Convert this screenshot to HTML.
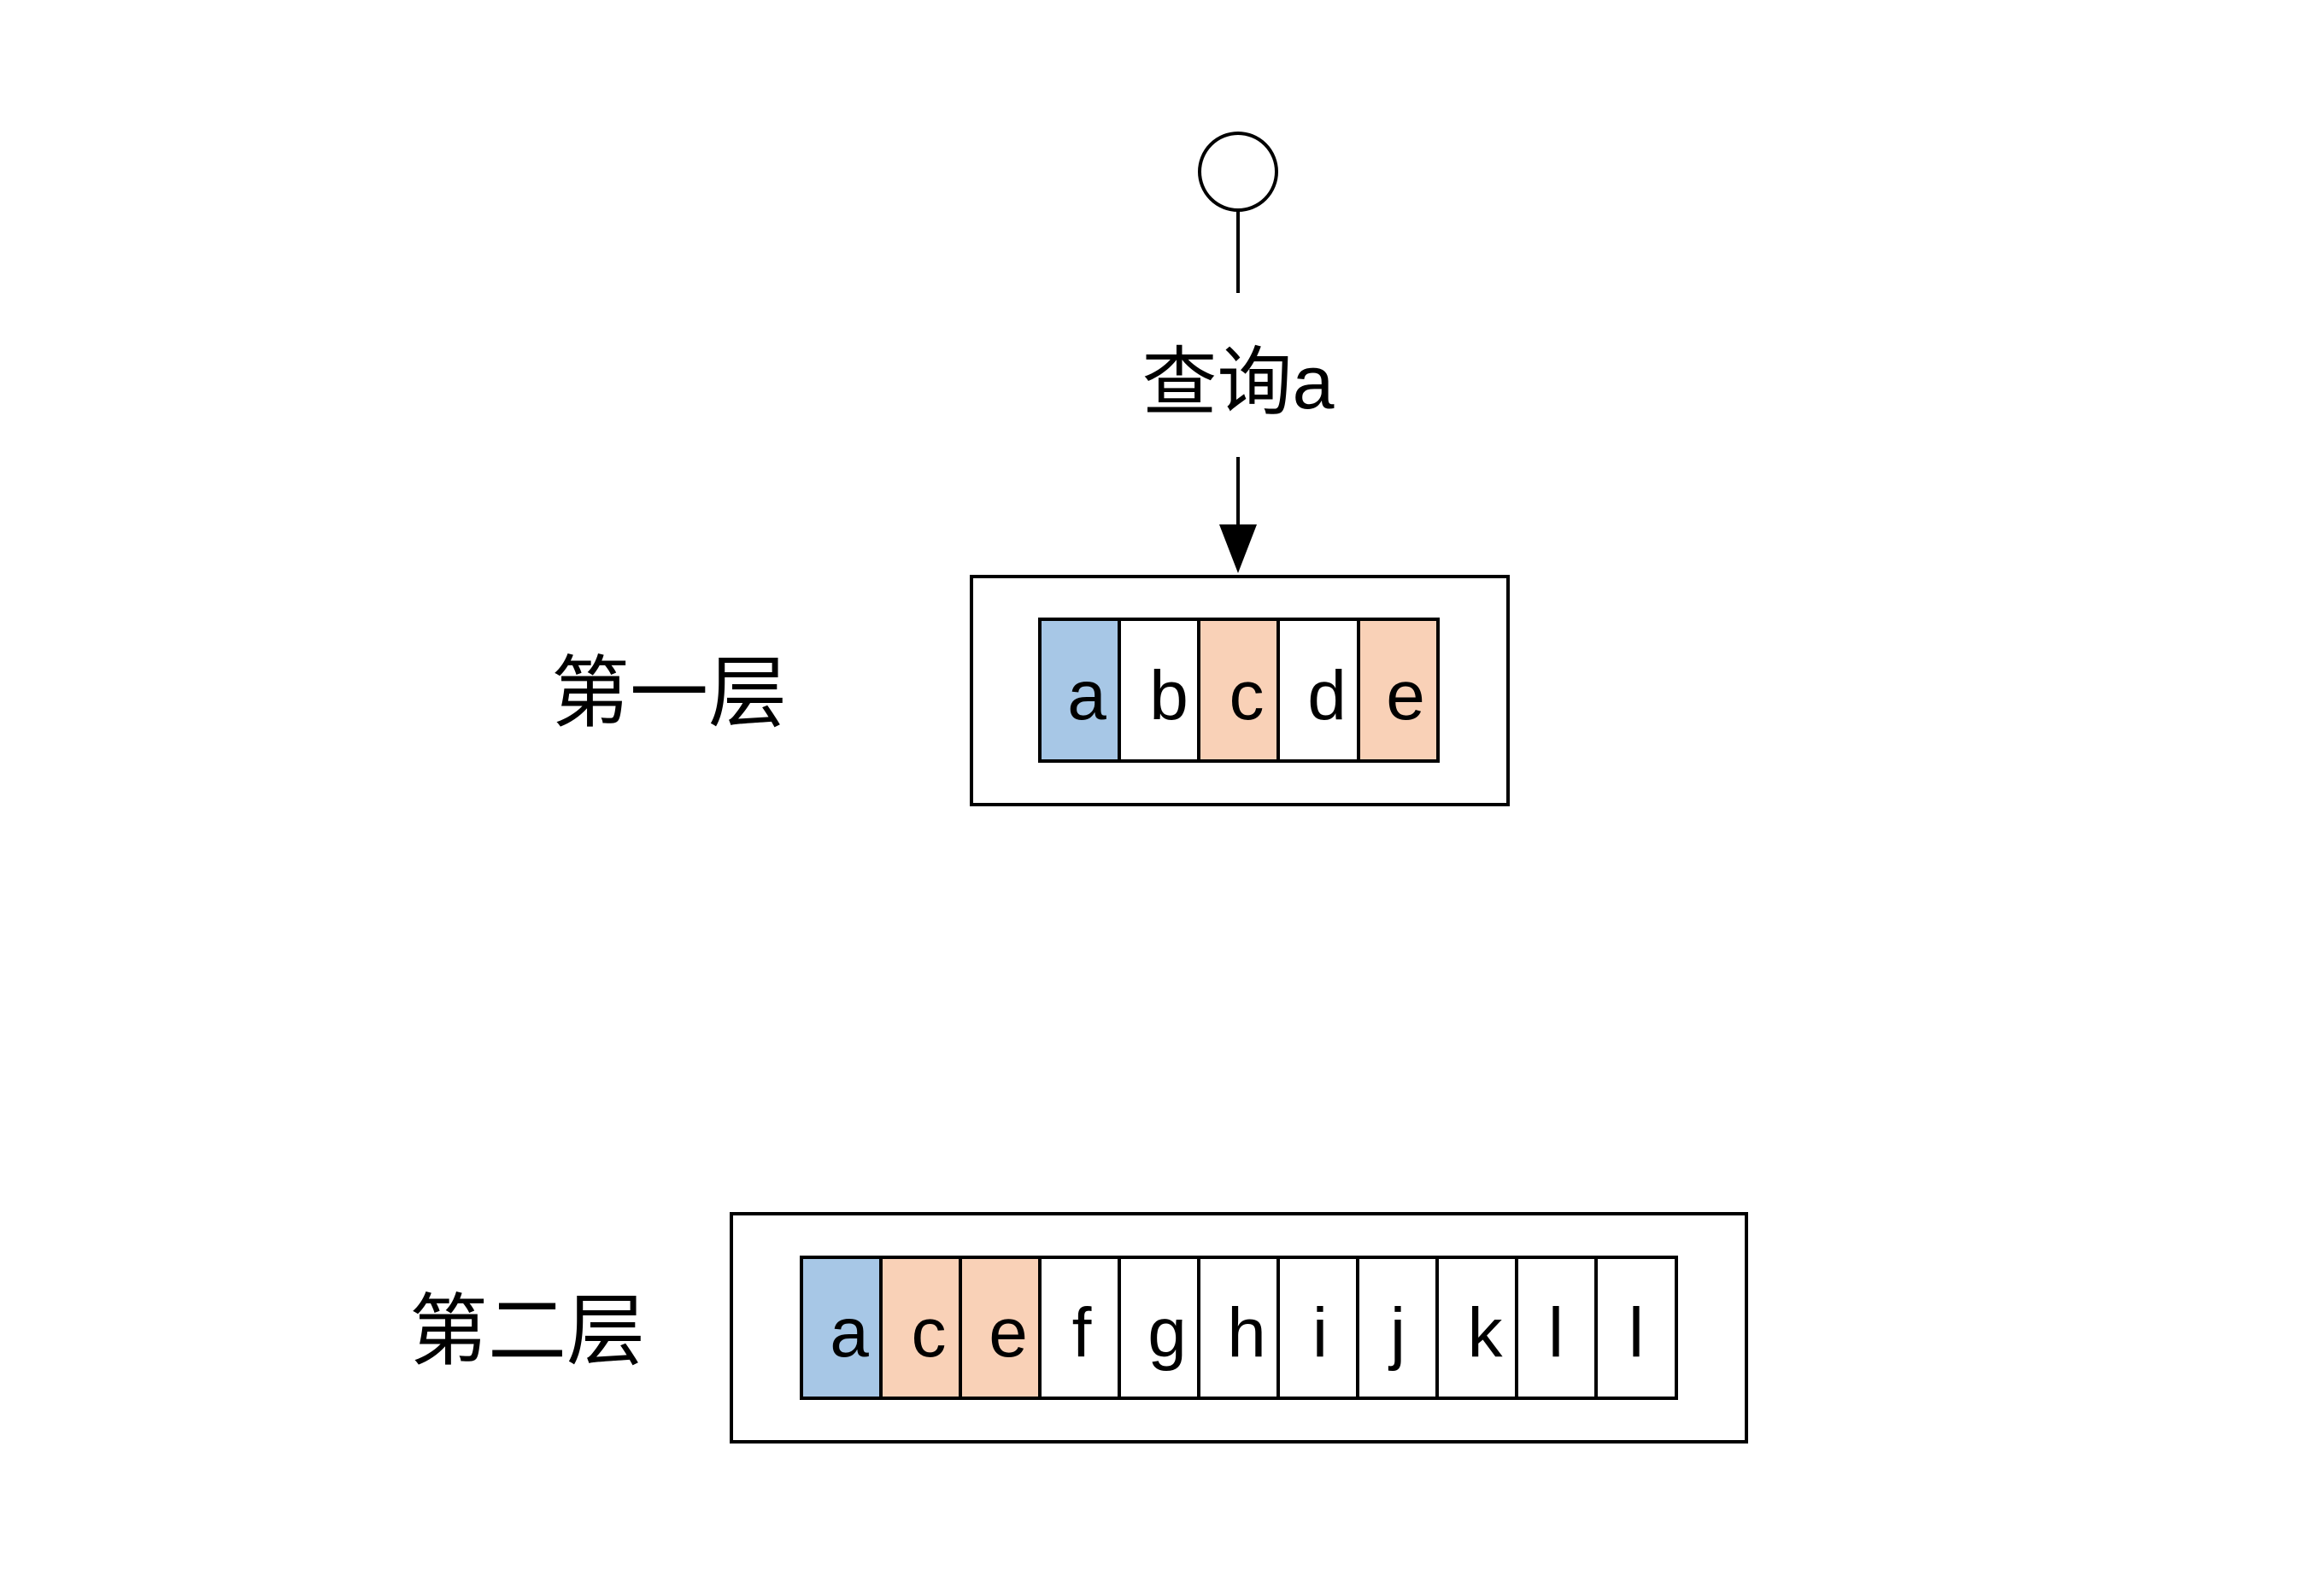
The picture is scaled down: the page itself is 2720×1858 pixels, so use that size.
<!DOCTYPE html>
<html><head><meta charset="utf-8"><style>
body{margin:0;background:#fff;}
svg text{font-family:"Liberation Sans","Noto Sans CJK SC",sans-serif;}
</style></head><body>
<svg width="2720" height="1853" viewBox="0 0 2720 1853" xmlns="http://www.w3.org/2000/svg">
<rect width="2720" height="1853" fill="#fff"/>
<circle cx="1449" cy="201" r="45" fill="#fff" stroke="#000" stroke-width="4"/>
<line x1="1449" y1="246" x2="1449" y2="343" stroke="#000" stroke-width="4"/>
<text x="1449" y="478" font-size="88" text-anchor="middle">查询a</text>
<line x1="1449" y1="535" x2="1449" y2="620" stroke="#000" stroke-width="4"/>
<polygon points="1427,614 1471,614 1449,671" fill="#000"/>
<rect x="1137" y="675" width="628" height="267" fill="none" stroke="#000" stroke-width="4"/>
<g stroke="#000" stroke-width="4" font-size="82" text-anchor="middle">
<rect x="1217" y="725" width="93" height="166" fill="#a7c7e6"/>
<rect x="1310" y="725" width="93" height="166" fill="#fff"/>
<rect x="1403" y="725" width="93" height="166" fill="#f9d1b7"/>
<rect x="1496" y="725" width="94" height="166" fill="#fff"/>
<rect x="1590" y="725" width="93" height="166" fill="#f9d1b7"/>
</g>
<g font-size="82" text-anchor="middle">
<text x="1272" y="842">a</text><text x="1368" y="842">b</text><text x="1459" y="842">c</text><text x="1553" y="842">d</text><text x="1645" y="842">e</text>
</g>
<text x="783" y="843" font-size="92" text-anchor="middle">第一层</text>
<rect x="856" y="1421" width="1188" height="267" fill="none" stroke="#000" stroke-width="4"/>
<g stroke="#000" stroke-width="4">
<rect x="938" y="1472" width="93" height="165" fill="#a7c7e6"/>
<rect x="1031" y="1472" width="93" height="165" fill="#f9d1b7"/>
<rect x="1124" y="1472" width="93" height="165" fill="#f9d1b7"/>
<rect x="1217" y="1472" width="93" height="165" fill="#fff"/>
<rect x="1310" y="1472" width="93" height="165" fill="#fff"/>
<rect x="1403" y="1472" width="93" height="165" fill="#fff"/>
<rect x="1496" y="1472" width="93" height="165" fill="#fff"/>
<rect x="1589" y="1472" width="93" height="165" fill="#fff"/>
<rect x="1682" y="1472" width="93" height="165" fill="#fff"/>
<rect x="1775" y="1472" width="93" height="165" fill="#fff"/>
<rect x="1868" y="1472" width="94" height="165" fill="#fff"/>
</g>
<g font-size="82" text-anchor="middle">
<text x="994" y="1588">a</text><text x="1087" y="1588">c</text><text x="1180" y="1588">e</text><text x="1266" y="1588">f</text><text x="1366" y="1588">g</text><text x="1459" y="1588">h</text><text x="1545" y="1588">i</text><text x="1636" y="1588">j</text><text x="1738" y="1588">k</text><text x="1821" y="1588">l</text><text x="1915" y="1588">l</text>
</g>
<text x="617" y="1590" font-size="92" text-anchor="middle">第二层</text>
</svg>
</body></html>
